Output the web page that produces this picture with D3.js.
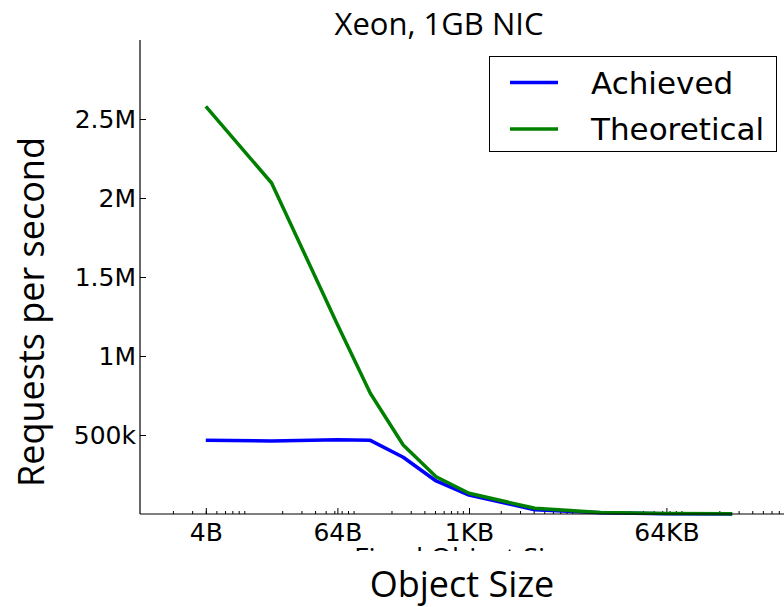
<!DOCTYPE html>
<html>
<head>
<meta charset="utf-8">
<script src="https://cdn.jsdelivr.net/npm/d3@7"></script>
<style>
  body { margin: 0; background: #fff; }
  svg { display: block; }
</style>
</head>
<body>
<svg id="chart" width="784" height="607"></svg>
<script>
// object sizes in bytes (log x axis)
const sizes = [4, 16, 64, 128, 256, 512, 1024, 4096, 16384, 65536, 262144];
// requests per second
const achieved = [466000, 462000, 470000, 466000, 359000, 209000, 120000, 27000, 8000, 2000, 500];
const theoretical = [2580000, 2095000, 1200000, 764000, 437000, 236000, 131000, 36000, 10000, 3000, 1000];

const xTickVals = [4, 64, 1024, 65536];
const xTickLabels = ['4B', '64B', '1KB', '64KB'];
const yTickVals = [500000, 1000000, 1500000, 2000000, 2500000];
const yTickLabels = ['500k', '1M', '1.5M', '2M', '2.5M'];

const series = [
  { name: 'Achieved', values: achieved, color: '#0000ff' },
  { name: 'Theoretical', values: theoretical, color: '#008000' }
];

const svg = d3.select('#chart');
svg.append('rect').attr('width', 784).attr('height', 607).attr('fill', '#fff');

const m = { left: 140, bottom: 514, top: 40, right: 798 };

const x = d3.scaleLog().domain([1, 1048576]).range([m.left, m.right]);
const y = d3.scaleLinear().domain([0, 3000000]).range([m.bottom, m.top]);

// minor ticks: 2..9 of every decade (matplotlib style)
let minor = [];
for (let k = 0; k <= 6; k++) {
  for (let d = 2; d <= 9; d++) {
    const v = d * Math.pow(10, k);
    if (v <= 1048576) minor.push(v);
  }
}

const tickFont = 'DejaVu Sans';

// minor x ticks
svg.append('g')
  .attr('transform', 'translate(0,' + m.bottom + ')')
  .call(d3.axisBottom(x).tickValues(minor).tickSize(-3).tickFormat(''))
  .call(g => g.select('.domain').remove())
  .selectAll('line').attr('stroke', '#000').attr('stroke-width', 1);

// major x ticks
const xAxis = svg.append('g')
  .attr('transform', 'translate(0,' + m.bottom + ')')
  .call(d3.axisBottom(x).tickValues(xTickVals).tickSize(-6).tickPadding(9)
    .tickFormat((d, i) => xTickLabels[i]));
xAxis.select('.domain').remove();
xAxis.selectAll('line').attr('stroke', '#000');
xAxis.selectAll('text').attr('font-family', tickFont).attr('font-size', 25).attr('fill', '#000');

// y ticks
const yAxis = svg.append('g')
  .attr('transform', 'translate(' + m.left + ',0)')
  .call(d3.axisLeft(y).tickValues(yTickVals).tickSize(-6).tickPadding(4)
    .tickFormat((d, i) => yTickLabels[i]));
yAxis.select('.domain').remove();
yAxis.selectAll('line').attr('stroke', '#000');
yAxis.selectAll('text').attr('font-family', tickFont).attr('font-size', 25).attr('fill', '#000');

// lines
const line = d3.line()
  .x((d, i) => x(sizes[i]))
  .y(d => y(d));

const plot = svg.append('g');
series.forEach(s => {
  plot.append('path')
    .datum(s.values)
    .attr('d', line)
    .attr('fill', 'none')
    .attr('stroke', s.color)
    .attr('stroke-width', 3.5)
    .attr('stroke-linejoin', 'round');
});

// spines (left + bottom only)
svg.append('line').attr('x1', m.left).attr('x2', m.left).attr('y1', m.top).attr('y2', m.bottom)
  .attr('stroke', '#000').attr('stroke-width', 1.2);
svg.append('line').attr('x1', m.left).attr('x2', m.right).attr('y1', m.bottom).attr('y2', m.bottom)
  .attr('stroke', '#000').attr('stroke-width', 1.2);

// title
svg.append('text')
  .attr('x', 439).attr('y', 35)
  .attr('text-anchor', 'middle')
  .attr('font-family', 'Open Sans').attr('font-size', 31)
  .text('Xeon, 1GB NIC');

// old x label, mostly hidden under the new one
svg.append('text')
  .attr('x', 464).attr('y', 568)
  .attr('text-anchor', 'middle')
  .attr('font-family', 'Open Sans').attr('font-size', 28)
  .text('Fixed Object Size');
svg.append('rect').attr('x', 0).attr('y', 551).attr('width', 784).attr('height', 56).attr('fill', '#fff');

svg.append('text')
  .attr('x', 462).attr('y', 597)
  .attr('text-anchor', 'middle')
  .attr('font-family', 'Open Sans').attr('font-size', 36)
  .text('Object Size');

svg.append('text')
  .attr('transform', 'translate(44,312) rotate(-90)')
  .attr('text-anchor', 'middle')
  .attr('font-family', 'Open Sans').attr('font-size', 36)
  .text('Requests per second');

// legend
const legend = svg.append('g');
legend.append('rect')
  .attr('x', 489.5).attr('y', 56.5).attr('width', 287).attr('height', 95)
  .attr('fill', '#fff').attr('stroke', '#000').attr('stroke-width', 1);
series.forEach((s, i) => {
  const ly = 82.5 + i * 46.5;
  legend.append('line')
    .attr('x1', 510).attr('x2', 558).attr('y1', ly).attr('y2', ly)
    .attr('stroke', s.color).attr('stroke-width', 3.5);
  legend.append('text')
    .attr('x', 591).attr('y', ly + 11)
    .attr('font-family', tickFont).attr('font-size', 31)
    .text(s.name);
});
</script>
</body>
</html>
